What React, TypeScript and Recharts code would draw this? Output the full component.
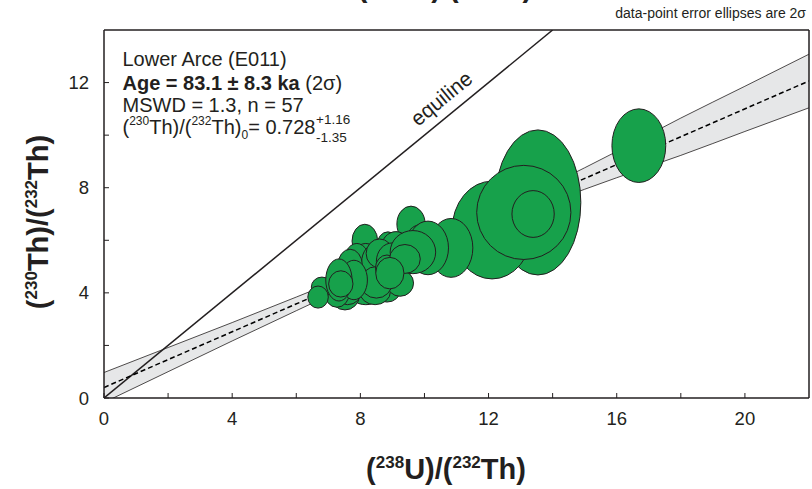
import React from 'react'
import { ComposedChart, XAxis, YAxis, Area, Line, Scatter, ReferenceLine } from 'recharts'

const W = 812
const H = 489
const MARGIN = { top: 30, right: 3, bottom: 61, left: 64 }
const X_AXIS_H = 30
const Y_AXIS_W = 40
const X_DOMAIN: [number, number] = [0, 22]
const Y_DOMAIN: [number, number] = [0, 14]
const PLOT_W = W - MARGIN.left - MARGIN.right - Y_AXIS_W
const PLOT_H = H - MARGIN.top - MARGIN.bottom - X_AXIS_H
const PX_X = PLOT_W / (X_DOMAIN[1] - X_DOMAIN[0])
const PX_Y = PLOT_H / (Y_DOMAIN[1] - Y_DOMAIN[0])

const FONT = "'Liberation Sans', Arial, Helvetica, sans-serif"
const INK = '#231f20'
const GREEN = '#17a14b'

const xTicks = [0, 2, 4, 6, 8, 10, 12, 14, 16, 18, 20]
const yTicks = [0, 2, 4, 6, 8, 10, 12]

// error envelope of the isochron
const bandX = [0, 2, 4, 6, 8, 10, 12, 14, 16, 18, 20, 22]
const bandLow = [-0.17, 1.0, 2.17, 3.32, 4.45, 5.53, 6.54, 7.49, 8.38, 9.23, 10.14, 11.04]
const bandHigh = [0.97, 1.92, 2.87, 3.84, 4.83, 5.87, 6.98, 8.15, 9.38, 10.65, 11.86, 13.08]

// best-fit isochron
const isoX = [0, 22]
const isoY = [0.4, 12.06]

// equiline
const eqX = [0, 14]
const eqY = [0, 14]

// data-point error ellipses (centre, semi-axes), in drawing order
const ellX = [16.69, 13.54, 12.11, 13.1, 13.39,
  8.14, 9.58, 8.86, 9.11, 9.9, 8.17, 7.89, 8.49, 7.68, 8.6, 9.0, 8.17, 8.83, 8.46, 9.24, 8.5,
  7.52, 7.6, 7.27, 6.8, 7.8, 7.33, 10.83, 10.11, 9.64, 8.83, 9.39, 8.92, 7.39, 6.68]
const ellY = [9.6, 7.44, 6.39, 7.06, 7.0,
  5.97, 6.62, 5.82, 5.63, 5.9, 4.83, 4.83, 5.17, 5.06, 5.5, 5.2, 4.1, 4.1, 4.05, 4.37, 4.4,
  3.9, 4.1, 4.05, 4.22, 4.49, 4.49, 5.71, 5.71, 5.55, 4.94, 5.29, 4.75, 4.34, 3.84]
const ellRx = [0.84, 1.34, 1.25, 1.47, 0.66,
  0.4, 0.44, 0.34, 0.48, 0.5, 0.55, 0.48, 0.45, 0.38, 0.42, 0.5, 0.55, 0.42, 0.48, 0.42, 0.5,
  0.45, 0.45, 0.4, 0.33, 0.42, 0.41, 0.68, 0.64, 0.71, 0.36, 0.48, 0.44, 0.38, 0.32]
const ellRy = [1.4, 2.76, 1.86, 1.79, 0.89,
  0.64, 0.68, 0.5, 0.7, 0.7, 1.05, 1.05, 0.7, 0.6, 0.55, 0.7, 0.55, 0.45, 0.5, 0.5, 0.6,
  0.55, 0.55, 0.6, 0.38, 0.75, 0.8, 1.12, 1.02, 0.82, 0.5, 0.55, 0.6, 0.5, 0.42]

const bandData = bandX.map((x, i) => ({ x, range: [bandLow[i], bandHigh[i]] }))
const isoData = isoX.map((x, i) => ({ x, y: isoY[i] }))
const eqData = eqX.map((x, i) => ({ x, y: eqY[i] }))
const ellData = ellX.map((x, i) => ({ x, y: ellY[i], rx: ellRx[i], ry: ellRy[i] }))

function EllipseShape(props: any) {
  const { cx, cy, payload } = props
  if (cx == null || cy == null) return null
  return (
    <ellipse cx={cx} cy={cy} rx={payload.rx * PX_X} ry={payload.ry * PX_Y}
      fill={GREEN} stroke={INK} strokeWidth={1} />
  )
}

function XTick(props: any) {
  const { x, y, payload } = props
  const v = payload.value
  return (
    <g>
      <line x1={x} y1={y} x2={x} y2={y - 5} stroke={INK} strokeWidth={1} />
      {v % 4 === 0 && (
        <text x={x} y={y + 27} textAnchor="middle" fontSize={18.5} fontFamily={FONT} fill={INK}>{v}</text>
      )}
    </g>
  )
}

function YTick(props: any) {
  const { x, y, payload } = props
  const v = payload.value
  return (
    <g>
      <line x1={x} y1={y} x2={x + 5} y2={y} stroke={INK} strokeWidth={1} />
      {v % 4 === 0 && (
        <text x={x - 15} y={y + 6.5} textAnchor="end" fontSize={18.5} fontFamily={FONT} fill={INK}>{v}</text>
      )}
    </g>
  )
}

function Overlay() {
  const eqAngle = -Math.atan(PX_Y / PX_X) * 180 / Math.PI
  return (
    <svg width={W} height={H} style={{ position: 'absolute', left: 0, top: 0, pointerEvents: 'none' }}
      fontFamily={FONT} fill={INK}>
      {/* clipped title at the very top */}
      <text x={445} y={-3} textAnchor="middle" fontSize={29} fontWeight="bold">
        (<tspan fontSize={17} dy={-11}>230</tspan><tspan dy={11}>Th)/(</tspan><tspan fontSize={17} dy={-11}>232</tspan><tspan dy={11}>Th)</tspan>
      </text>
      <text x={806} y={18} textAnchor="end" fontSize={14}>data-point error ellipses are 2σ</text>

      <text x={122.5} y={66} fontSize={20}>Lower Arce (E011)</text>
      <text x={122.5} y={90} fontSize={20}>
        <tspan fontWeight="bold">Age = 83.1 ± 8.3 ka</tspan> (2σ)
      </text>
      <text x={122.5} y={112} fontSize={20}>MSWD = 1.3, n = 57</text>
      <text x={122.5} y={134} fontSize={20}>
        (<tspan fontSize={12} dy={-9}>230</tspan><tspan dy={9}>Th)/(</tspan><tspan fontSize={12} dy={-9}>232</tspan><tspan dy={9}>Th)</tspan><tspan fontSize={12} dy={4.5}>0</tspan><tspan dy={-4.5}>= 0.728</tspan>
      </text>
      <text x={316} y={123.5} fontSize={13.5}>+1.16</text>
      <text x={316} y={142} fontSize={13.5}>-1.35</text>

      <text transform={`translate(446,104) rotate(${eqAngle})`} textAnchor="middle" fontSize={21}>equiline</text>

      <text x={446} y={479} textAnchor="middle" fontSize={29} fontWeight="bold">
        (<tspan fontSize={17} dy={-11}>238</tspan><tspan dy={11}>U)/(</tspan><tspan fontSize={17} dy={-11}>232</tspan><tspan dy={11}>Th)</tspan>
      </text>
      <text transform="translate(48,222) rotate(-90)" textAnchor="middle" fontSize={29} fontWeight="bold">
        (<tspan fontSize={17} dy={-11}>230</tspan><tspan dy={11}>Th)/(</tspan><tspan fontSize={17} dy={-11}>232</tspan><tspan dy={11}>Th)</tspan>
      </text>
    </svg>
  )
}

export default function App() {
  return (
    <div style={{ position: 'relative', width: W, height: H, background: '#fff' }}>
      <style>{'body{margin:0}'}</style>
      <ComposedChart width={W} height={H} margin={MARGIN}>
        <XAxis type="number" dataKey="x" domain={X_DOMAIN} allowDataOverflow ticks={xTicks} interval={0}
          height={X_AXIS_H} tickSize={0} tickMargin={0} tickLine={false} tick={<XTick />}
          axisLine={{ stroke: INK, strokeWidth: 1.5 }} />
        <YAxis type="number" domain={Y_DOMAIN} allowDataOverflow ticks={yTicks} interval={0}
          width={Y_AXIS_W} tickSize={0} tickMargin={0} tickLine={false} tick={<YTick />}
          axisLine={{ stroke: INK, strokeWidth: 1.5 }} />
        <Area data={bandData} dataKey="range" type="monotone" fill="#e6e7e8" fillOpacity={1}
          stroke={INK} strokeWidth={0.8} dot={false} activeDot={false} isAnimationActive={false} />
        <Line data={eqData} dataKey="y" stroke={INK} strokeWidth={1.5} dot={false} activeDot={false} isAnimationActive={false} />
        <Line data={isoData} dataKey="y" stroke="#000" strokeWidth={1.5} strokeDasharray="5 3" dot={false} activeDot={false} isAnimationActive={false} />
        <Scatter data={ellData} dataKey="y" shape={EllipseShape} isAnimationActive={false} />
        <ReferenceLine y={14} stroke={INK} strokeWidth={1.5} />
        <ReferenceLine x={22} stroke={INK} strokeWidth={1.5} />
      </ComposedChart>
      <Overlay />
    </div>
  )
}
